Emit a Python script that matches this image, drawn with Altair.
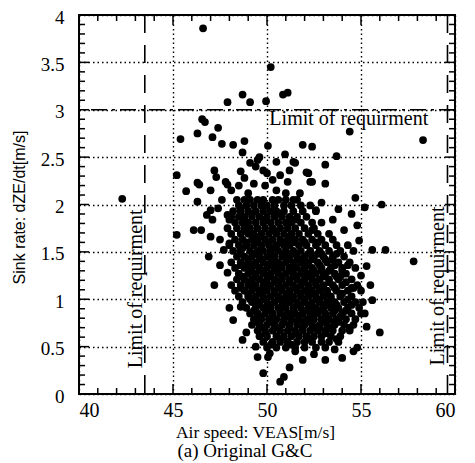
import altair as alt
import pandas as pd

# ---------------- data ----------------
# sparse points above the main cloud (air speed, sink rate)
upper_points = [
    (46.6, 3.86), (50.2, 3.45), (47.9, 3.08), (48.7, 3.16), (49.1, 3.08), (49.95, 3.09),
    (50.85, 3.16), (51.1, 3.18), (46.55, 2.90), (46.7, 2.87), (47.4, 2.81), (46.3, 2.75),
    (45.4, 2.69), (47.1, 2.71), (47.6, 2.64), (48.2, 2.63), (48.8, 2.67), (48.7, 2.55),
    (49.1, 2.44), (49.5, 2.47), (54.4, 2.77), (58.3, 2.68), (50.05, 2.62), (50.96, 2.53),
    (51.9, 2.63), (52.4, 2.61), (53.7, 2.51), (53.1, 2.42), (53.1, 2.22), (52.1, 2.34),
    (52.3, 2.24), (51.4, 2.45), (49.6, 2.50), (49.4, 2.40), (50.0, 2.33), (50.3, 2.26),
    (51.5, 2.44), (51.2, 2.36), (51.1, 2.24), (52.2, 2.33), (52.4, 2.24), (51.75, 2.12),
    (51.4, 2.05), (49.8, 2.36), (49.9, 2.20), (50.5, 2.15), (51.0, 2.12), (50.7, 2.31),
    (49.3, 2.22), (48.8, 2.28), (49.0, 2.12), (48.6, 2.35), (50.5, 2.45), (48.5, 2.20),
]
# sparse points to the left of the cloud
left_points = [
    (45.2, 2.31), (47.2, 2.36), (47.3, 2.29), (46.3, 2.23), (46.4, 2.21), (45.7, 2.14),
    (47.0, 2.15), (47.8, 2.24), (47.9, 2.21), (48.1, 2.15), (46.3, 2.03), (47.6, 2.05),
    (47.4, 1.96), (47.0, 1.94), (46.8, 1.89), (47.1, 1.84), (47.9, 1.89), (48.0, 1.84),
    (46.1, 1.73), (46.5, 1.73), (47.0, 1.66), (47.5, 1.63), (48.0, 1.59), (45.2, 1.68),
    (42.3, 2.06), (47.2, 1.15), (48.0, 0.91), (48.6, 0.92), (48.1, 1.15), (47.5, 1.36),
    (46.9, 1.45), (48.9, 0.65), (48.7, 0.57), (47.7, 1.52), (47.9, 1.28), (48.2, 0.78),
]
# sparse points to the right of the cloud
right_points = [
    (54.7, 2.07), (55.2, 1.97), (56.1, 2.00), (52.9, 2.02), (52.6, 1.94), (54.1, 1.73),
    (53.5, 1.84), (54.8, 1.78), (52.4, 1.73), (55.6, 1.52), (56.3, 1.52), (57.8, 1.40),
    (55.6, 0.99), (56.0, 0.65), (55.3, 0.71), (54.9, 1.62), (55.3, 1.35), (55.5, 1.15),
    (55.2, 0.85), (54.5, 1.90), (53.8, 1.95), (55.0, 1.25),
]
# sparse points below the cloud
lower_points = [
    (54.8, 0.49), (54.6, 0.45), (54.0, 0.38), (53.1, 0.36), (51.2, 0.28), (50.9, 0.18),
    (50.7, 0.13), (49.8, 0.22), (49.5, 0.39), (50.05, 0.39), (49.4, 0.50), (51.9, 0.36),
    (50.15, 0.43), (52.5, 0.42), (53.6, 0.47), (51.5, 0.45),
]
# dense core of the cloud: (sink rate, [air speeds])
core_rows = [
    (2.05, [48.4, 48.8, 49.1, 49.5, 49.8, 50.3, 50.6, 51.0, 51.6]),
    (1.99, [48.5, 48.9, 49.3, 49.7, 50.0, 50.4, 50.9, 51.3, 51.8, 52.3]),
    (1.93, [48.2, 48.6, 49.0, 49.4, 49.8, 50.2, 50.5, 50.9, 51.4, 51.9, 52.6]),
    (1.87, [48.1, 48.5, 48.8, 49.2, 49.6, 50.0, 50.4, 50.8, 51.2, 51.6, 52.1]),
    (1.81, [48.3, 48.7, 49.0, 49.4, 49.8, 50.2, 50.6, 51.0, 51.3, 51.8, 52.4, 52.9]),
    (1.75, [47.9, 48.4, 48.8, 49.1, 49.5, 49.9, 50.3, 50.7, 51.1, 51.5, 52.0, 52.5]),
    (1.69, [48.1, 48.6, 49.0, 49.3, 49.7, 50.1, 50.5, 50.9, 51.3, 51.7, 52.2, 52.7, 53.3]),
    (1.63, [48.3, 48.7, 49.2, 49.5, 49.9, 50.3, 50.7, 51.1, 51.5, 51.9, 52.4, 52.9, 53.5]),
    (1.57, [48.0, 48.5, 48.9, 49.3, 49.7, 50.1, 50.5, 50.9, 51.2, 51.7, 52.1, 52.6, 53.1, 53.7, 54.3]),
    (1.51, [48.2, 48.6, 49.1, 49.5, 49.8, 50.2, 50.6, 51.0, 51.4, 51.8, 52.3, 52.8, 53.3, 53.9, 54.6]),
    (1.45, [48.4, 48.8, 49.2, 49.6, 50.0, 50.4, 50.8, 51.2, 51.6, 52.0, 52.5, 53.0, 53.5, 54.1]),
    (1.39, [48.1, 48.6, 49.0, 49.4, 49.8, 50.2, 50.6, 51.0, 51.4, 51.8, 52.2, 52.7, 53.2, 53.8, 54.4]),
    (1.33, [48.3, 48.8, 49.2, 49.6, 50.0, 50.4, 50.8, 51.2, 51.6, 52.0, 52.4, 52.9, 53.4, 54.0, 54.7]),
    (1.27, [48.5, 49.0, 49.4, 49.8, 50.2, 50.6, 51.0, 51.4, 51.8, 52.2, 52.6, 53.1, 53.6, 54.2]),
    (1.21, [48.4, 48.8, 49.2, 49.6, 50.0, 50.4, 50.8, 51.2, 51.6, 52.0, 52.4, 52.8, 53.3, 53.8, 54.5]),
    (1.15, [48.6, 49.0, 49.4, 49.8, 50.2, 50.6, 51.0, 51.4, 51.8, 52.2, 52.6, 53.0, 53.5, 54.0, 54.8]),
    (1.09, [48.3, 48.8, 49.2, 49.6, 50.0, 50.4, 50.8, 51.2, 51.6, 52.0, 52.4, 52.8, 53.2, 53.7, 54.3, 55.0]),
    (1.03, [48.5, 49.0, 49.4, 49.8, 50.2, 50.6, 51.0, 51.4, 51.8, 52.2, 52.6, 53.0, 53.4, 53.9, 54.5]),
    (0.97, [48.7, 49.2, 49.6, 50.0, 50.4, 50.8, 51.2, 51.6, 52.0, 52.4, 52.8, 53.2, 53.6, 54.1, 54.7, 55.1]),
    (0.91, [48.9, 49.4, 49.8, 50.2, 50.6, 51.0, 51.4, 51.8, 52.2, 52.6, 53.0, 53.4, 53.8, 54.3, 54.9]),
    (0.85, [49.1, 49.5, 49.9, 50.3, 50.7, 51.1, 51.5, 51.9, 52.3, 52.7, 53.1, 53.5, 54.0, 54.5, 55.0]),
    (0.79, [49.3, 49.7, 50.1, 50.5, 50.9, 51.3, 51.7, 52.1, 52.5, 52.9, 53.3, 53.7, 54.2, 54.7]),
    (0.73, [49.2, 49.6, 50.0, 50.4, 50.8, 51.2, 51.6, 52.0, 52.4, 52.8, 53.2, 53.6, 54.1, 54.6]),
    (0.67, [49.5, 49.9, 50.3, 50.7, 51.1, 51.5, 51.9, 52.3, 52.7, 53.1, 53.5, 54.0, 54.4]),
    (0.61, [49.6, 50.0, 50.5, 50.9, 51.3, 51.7, 52.1, 52.5, 52.9, 53.4, 53.9]),
    (0.55, [49.8, 50.3, 50.7, 51.1, 51.6, 52.0, 52.4, 52.9, 53.3, 53.8]),
    (0.49, [50.0, 50.5, 51.0, 51.5, 52.0, 52.6, 53.1]),
]
# second layer of the dense core, between the rows above
core_rows_mid = [
    (1.60, [48.9, 49.5, 50.1, 50.8, 51.4, 52.0, 52.7]),
    (1.48, [48.6, 49.4, 50.2, 50.9, 51.5, 52.2, 52.9, 53.7]),
    (1.42, [49.0, 49.7, 50.3, 51.1, 51.7, 52.4, 53.1]),
    (1.36, [48.6, 49.3, 50.1, 50.7, 51.4, 52.1, 52.8, 53.6, 54.3]),
    (1.30, [49.1, 49.8, 50.5, 51.2, 51.9, 52.5, 53.3, 54.0]),
    (1.24, [48.7, 49.4, 50.1, 50.8, 51.5, 52.3, 53.0, 53.9]),
    (1.18, [49.2, 49.9, 50.5, 51.2, 51.9, 52.6, 53.3, 54.2]),
    (1.12, [48.6, 49.3, 50.0, 50.7, 51.5, 52.2, 52.9, 53.6, 54.5]),
    (1.06, [49.0, 49.7, 50.4, 51.1, 51.8, 52.5, 53.2, 54.0]),
    (1.00, [49.1, 49.8, 50.6, 51.3, 52.0, 52.7, 53.4, 54.3]),
    (0.94, [49.5, 50.2, 50.9, 51.6, 52.3, 53.0, 53.7, 54.5]),
    (0.88, [49.3, 50.0, 50.7, 51.4, 52.1, 52.8, 53.6, 54.2]),
    (0.82, [49.6, 50.3, 51.0, 51.7, 52.4, 53.1, 53.9]),
    (0.76, [49.5, 50.2, 50.9, 51.6, 52.3, 53.0, 53.8]),
    (0.70, [49.8, 50.5, 51.2, 51.9, 52.6, 53.3]),
]
# extra points filling the gaps of the dense core (air speed, sink rate)
core_fill = [
    (48.6, 1.96), (49.2, 1.90), (49.9, 1.84), (50.7, 1.90), (51.5, 1.84), (48.9, 1.72),
    (49.6, 1.66), (50.4, 1.72), (51.2, 1.66), (52.0, 1.60), (48.7, 1.54), (49.5, 1.48),
    (50.3, 1.54), (51.1, 1.48), (51.9, 1.42), (52.7, 1.48), (53.5, 1.42), (48.9, 1.36),
    (49.7, 1.30), (50.5, 1.36), (51.3, 1.30), (52.1, 1.24), (52.9, 1.30), (53.7, 1.24),
    (49.0, 1.18), (49.8, 1.12), (50.6, 1.18), (51.4, 1.12), (52.2, 1.06), (53.0, 1.12),
    (53.9, 1.06), (54.6, 1.12), (49.3, 1.00), (50.1, 0.94), (50.9, 1.00), (51.7, 0.94),
    (52.5, 0.88), (53.3, 0.94), (54.2, 0.88), (49.6, 0.82), (50.4, 0.76), (51.2, 0.82),
    (52.0, 0.76), (52.8, 0.70), (53.6, 0.76), (54.4, 0.70), (49.9, 0.64), (50.7, 0.58),
    (51.5, 0.64), (52.3, 0.58), (53.1, 0.64), (53.7, 0.58), (50.2, 0.52), (51.3, 0.52),
]

x_major_ticks = [40, 45, 50, 55, 60]
x_minor_ticks = [41, 42, 43, 44, 46, 47, 48, 49, 51, 52, 53, 54, 56, 57, 58, 59]
y_major_ticks = [0, 0.5, 1, 1.5, 2, 2.5, 3, 3.5, 4]
y_minor_ticks = [0.1, 0.2, 0.3, 0.4, 0.6, 0.7, 0.8, 0.9, 1.1, 1.2, 1.3, 1.4,
                 1.6, 1.7, 1.8, 1.9, 2.1, 2.2, 2.3, 2.4, 2.6, 2.7, 2.8, 2.9,
                 3.1, 3.2, 3.3, 3.4, 3.6, 3.7, 3.8, 3.9]

limit_speeds = [43.5, 59.6]
limit_sink = [3.0]
label_text = "Limit of requirment"
horizontal_label = [(54.35, 2.90)]
vertical_labels = [(43.03, 1.11), (59.08, 1.14)]

# ---------------- build tables ----------------
pts = upper_points + left_points + right_points + lower_points + core_fill
for yv, xs in core_rows + core_rows_mid:
    pts += [(xv, yv) for xv in xs]
df = pd.DataFrame(pts, columns=["speed", "sink"])

W, H = 376, 379
SERIF = "Liberation Serif"

xscale = alt.Scale(domain=[40, 60], nice=False, zero=False)
yscale = alt.Scale(domain=[0, 4], nice=False, zero=False)

points = alt.Chart(df).mark_circle(size=60, color="black", opacity=1).encode(
    x=alt.X("speed:Q", scale=xscale,
            axis=alt.Axis(values=x_major_ticks, grid=True, gridDash=[1.5, 3],
                          gridColor="black", gridWidth=1.4, gridOpacity=1,
                          ticks=False, domain=False, labelFont=SERIF,
                          labelFontSize=20, labelColor="black", labelPadding=6,
                          title="Air speed: VEAS[m/s]", titleFont=SERIF,
                          titleFontSize=17.5, titleFontWeight="normal",
                          titleColor="black", titleX=176, titleY=38,
                          titleBaseline="middle", titleAlign="center")),
    y=alt.Y("sink:Q", scale=yscale,
            axis=alt.Axis(values=y_major_ticks, format="~g", grid=True,
                          gridDash=[1.5, 3], gridColor="black", gridWidth=1.4,
                          gridOpacity=1, ticks=False, domain=False,
                          labelFont=SERIF, labelFontSize=19, labelColor="black",
                          labelPadding=15, labelOffset=2, labelBaseline="middle",
                          title="Sink rate: dZE/dt[m/s]", titleFont="Liberation Sans",
                          titleFontSize=16, titleFontWeight="normal",
                          titleColor="black", titleX=-60, titleY=192,
                          titleAngle=270, titleBaseline="middle",
                          titleAlign="center")),
)

vlines = alt.Chart(pd.DataFrame({"speed": limit_speeds})).mark_rule(
    color="black", strokeWidth=1.6, strokeDash=[18, 12]).encode(
    x=alt.X("speed:Q", scale=xscale))
hline = alt.Chart(pd.DataFrame({"sink": limit_sink})).mark_rule(
    color="black", strokeWidth=1.6, strokeDash=[16, 5, 3, 5]).encode(
    y=alt.Y("sink:Q", scale=yscale))

htext = alt.Chart(pd.DataFrame(horizontal_label, columns=["speed", "sink"]).assign(t=label_text)).mark_text(
    font=SERIF, fontSize=20, color="black", align="center", baseline="middle").encode(
    x=alt.X("speed:Q", scale=xscale), y=alt.Y("sink:Q", scale=yscale), text="t:N")
vtext = alt.Chart(pd.DataFrame(vertical_labels, columns=["speed", "sink"]).assign(t=label_text)).mark_text(
    font=SERIF, fontSize=20, color="black", align="center", baseline="middle", angle=270).encode(
    x=alt.X("speed:Q", scale=xscale), y=alt.Y("sink:Q", scale=yscale), text="t:N")

def xticks(vals, length):
    d = pd.DataFrame({"speed": vals})
    bottom = alt.Chart(d).mark_rule(color="black", strokeWidth=1.5).encode(
        x=alt.X("speed:Q", scale=xscale), y=alt.value(H), y2=alt.value(H - length))
    top = alt.Chart(d).mark_rule(color="black", strokeWidth=1.5).encode(
        x=alt.X("speed:Q", scale=xscale), y=alt.value(0), y2=alt.value(length))
    return [bottom, top]

def yticks(vals, length):
    d = pd.DataFrame({"sink": vals})
    left = alt.Chart(d).mark_rule(color="black", strokeWidth=1.5).encode(
        y=alt.Y("sink:Q", scale=yscale), x=alt.value(0), x2=alt.value(length))
    right = alt.Chart(d).mark_rule(color="black", strokeWidth=1.5).encode(
        y=alt.Y("sink:Q", scale=yscale), x=alt.value(W), x2=alt.value(W - length))
    return [left, right]

caption = alt.Chart(pd.DataFrame({"t": ["(a) Original G&C"]})).mark_text(
    font=SERIF, fontSize=19, color="black", align="center", baseline="middle").encode(
    text="t:N", x=alt.value(166), y=alt.value(436))

layers = [points, vlines, hline, htext, vtext, caption]
layers += xticks(x_major_ticks, 10) + xticks(x_minor_ticks, 6)
layers += yticks(y_major_ticks, 10) + yticks(y_minor_ticks, 6)

chart = alt.layer(*layers).properties(
    width=W, height=H,
    autosize=alt.AutoSizeParams(type="none"),
    padding={"left": 71, "top": 7, "right": 12, "bottom": 68},
    background="white",
).configure_view(stroke="black", strokeWidth=2)

chart.save("out.html", embed_options={"renderer": "svg", "actions": False})
